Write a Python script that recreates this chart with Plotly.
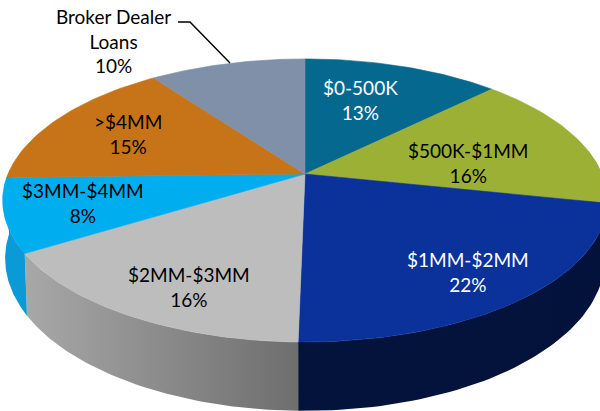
import math
import plotly.graph_objects as go

categories = ["$0-500K", "$500K-$1MM", "$1MM-$2MM", "$2MM-$3MM", "$3MM-$4MM", ">$4MM", "Broker Dealer<br>Loans"]
values = [12.6, 15.7, 22.0, 15.9, 8.4, 15.4, 10.0]

top_colors = ["#05688f", "#9bb034", "#0a329a", "#bdbdbd", "#00aeef", "#c67417", "#8090a8"]
side_colors = [("#045070", "#045070"), ("#6f7f22", "#6f7f22"), ("#03133c", "#03123a"),
               ("#a8a8a8", "#6e6e6e"), ("#0a9ad8", "#0a9ad8"), ("#8f5410", "#8f5410"), ("#5d6a80", "#5d6a80")]
text_colors = ["white", "black", "white", "black", "black", "black", "black"]
label_xy = [(360, 100), (468, 163), (468, 272), (189, 287), (83, 203), (128, 134), (113, 41)]

W, H = 600, 411
CX, CY, A, B, K = 305.0, 174.0, 297.0, 136.6, 0.187
DEPTH, SHRINK = 56.0, 0.992


def top_pt(theta):
    u, v = math.sin(theta), math.cos(theta)
    w = 1 + K * v
    return CX + A * u / w, CY - B * v / w


def bot_pt(theta):
    u, v = math.sin(theta), math.cos(theta)
    w = 1 + K * v
    return CX + SHRINK * A * u / w, CY - B * v / w + DEPTH / w


total = sum(values)
fig = go.Figure()
edges = [0.0]
for val in values:
    edges.append(edges[-1] + val / total * 2 * math.pi)

# side wall, front half only, with a horizontal gradient for the shading
for i in range(len(values)):
    a0 = max(edges[i], math.radians(80))
    a1 = min(edges[i + 1], math.radians(272))
    if a1 <= a0:
        continue
    angs = [a0 + (a1 - a0) * j / 60 for j in range(61)]
    pts_top = [top_pt(a) for a in angs]
    pts_bot = [bot_pt(a) for a in reversed(angs)]
    pts = pts_top + pts_bot + [pts_top[0]]
    fig.add_trace(go.Scatter(x=[p[0] for p in pts], y=[p[1] for p in pts], mode="lines", fill="toself",
                             fillgradient=dict(type="horizontal",
                                               colorscale=[[0, side_colors[i][0]], [1, side_colors[i][1]]]),
                             line=dict(width=0), hoverinfo="skip", showlegend=False))

# top surface
for i in range(len(values)):
    n = 40
    angs = [edges[i] + (edges[i + 1] - edges[i]) * j / n for j in range(n + 1)]
    pts = [(CX, CY)] + [top_pt(a) for a in angs] + [(CX, CY)]
    fig.add_trace(go.Scatter(x=[p[0] for p in pts], y=[p[1] for p in pts], mode="lines", fill="toself",
                             fillcolor=top_colors[i], line=dict(color=top_colors[i], width=0.6),
                             hoverinfo="skip", showlegend=False))

# leader line
fig.add_trace(go.Scatter(x=[178, 190, 230], y=[22, 22, 63], mode="lines",
                         line=dict(color="black", width=1.4), hoverinfo="skip", showlegend=False))

for cat, val, col, (lx, ly) in zip(categories, values, text_colors, label_xy):
    fig.add_annotation(x=lx, y=ly, text=f"{cat}<br>{round(val)}%", showarrow=False,
                       font=dict(family="Lato", size=19, color=col), align="center")

fig.update_layout(width=W, height=H, margin=dict(l=0, r=0, t=0, b=0), autosize=False,
                  paper_bgcolor="white", plot_bgcolor="white", showlegend=False,
                  xaxis=dict(range=[0, W], visible=False, fixedrange=True),
                  yaxis=dict(range=[H, 0], visible=False, fixedrange=True))
fig.write_html("out.html", config={"displayModeBar": False},
               post_script="document.body.style.margin='0';")
